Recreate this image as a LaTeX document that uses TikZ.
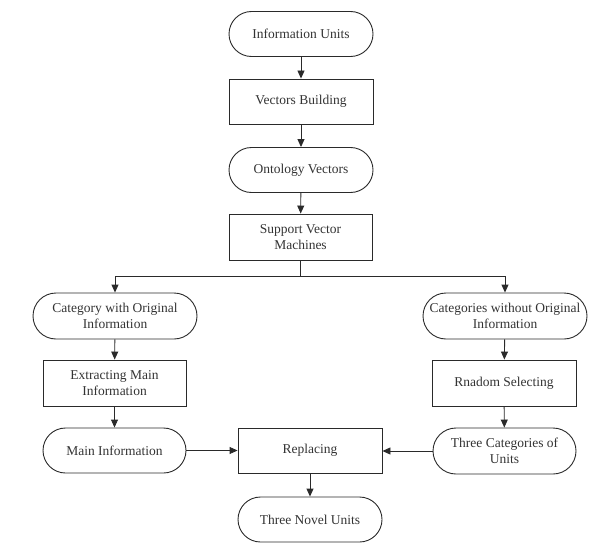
\documentclass[tikz,border=0pt]{standalone}
\usepackage{fontspec}
\setmainfont{Liberation Serif}
\usetikzlibrary{arrows.meta,positioning}
\definecolor{ink}{HTML}{2A2A2A}
\definecolor{txt}{HTML}{333333}
\tikzset{
  base/.style={draw=ink, line width=0.9pt, text=txt, align=center, inner xsep=0pt, inner ysep=0pt,
    font=\fontsize{13.5}{16}\selectfont},
  term/.style={base, rounded corners=22.5pt, minimum height=45pt},
  procbox/.style={base, minimum height=45pt},
  arr/.style={draw=ink, line width=0.9pt, -{Triangle[length=8pt,width=7pt]}}
}
\begin{document}
\begin{tikzpicture}[x=1pt,y=1pt]
\useasboundingbox (0,0) rectangle (594,-551);
\node[term, minimum width=144pt] (iu) at (301,-34) {Information Units};
\node[procbox, minimum width=144pt] (vb) at (301,-101.5) {Vectors Building};
\node[term, minimum width=144pt] (ov) at (301,-170) {Ontology Vectors};
\node[procbox, minimum width=143pt, minimum height=46pt] (svm) at (300.5,-237) {Support Vector\\Machines};
\node[term, minimum width=164pt, minimum height=46pt, rounded corners=23pt] (cwo) at (115,-316) {Category with Original\\Information};
\node[term, minimum width=164pt, minimum height=46pt, rounded corners=23pt] (cwoo) at (505,-316) {Categories without Original\\Information};
\node[procbox, minimum width=143pt, minimum height=46pt] (emi) at (114.5,-383) {Extracting Main\\Information};
\node[procbox, minimum width=144pt, minimum height=46pt] (rs) at (504,-383) {Rnadom Selecting};
\node[term, minimum width=143pt] (mi) at (114.5,-450.5) {Main Information};
\node[term, minimum width=143pt, minimum height=46pt, rounded corners=23pt] (tcu) at (504.5,-451) {Three Categories of\\Units};
\node[procbox, minimum width=144pt] (rep) at (310,-450.5) {Replacing};
\node[term, minimum width=144pt] (tnu) at (310,-519.5) {Three Novel Units};
\coordinate (split) at (300.5,-276);
\draw[arr] (iu) -- (vb);
\draw[arr] (vb) -- (ov);
\draw[arr] (ov) -- (svm);
\draw[draw=ink, line width=0.9pt] (svm.south) -- (split);
\draw[arr] (split) -| (cwo.north);
\draw[arr] (split) -| (cwoo.north);
\draw[arr] (cwo) -- (emi);
\draw[arr] (emi) -- (mi);
\draw[arr] (cwoo) -- (rs);
\draw[arr] (rs) -- (tcu);
\draw[arr] (mi) -- (rep);
\draw[arr] (tcu.west) -- (rep.east |- tcu.west);
\draw[arr] (rep) -- (tnu);
\end{tikzpicture}
\end{document}
